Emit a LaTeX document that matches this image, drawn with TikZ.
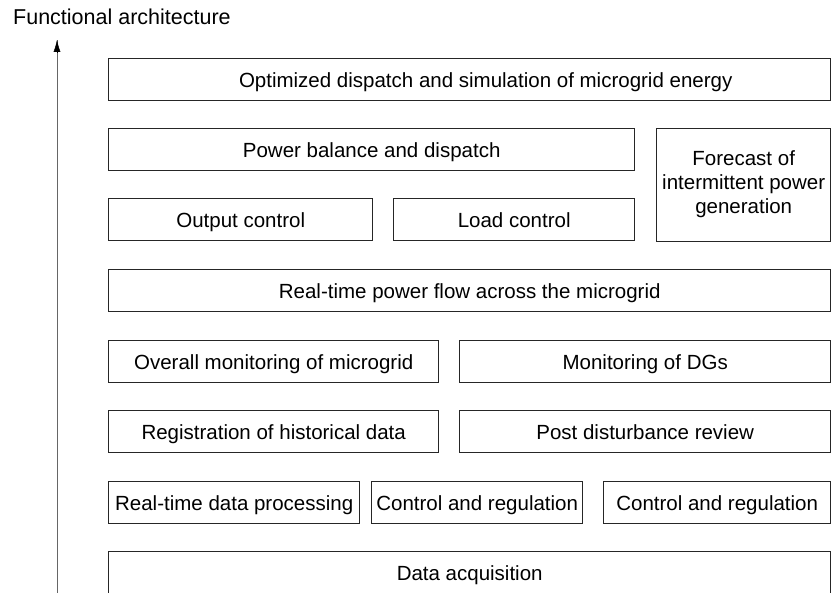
\documentclass[tikz,border=0pt]{standalone}
\usepackage{fontspec}
\setmainfont{Liberation Sans}
\usetikzlibrary{positioning,calc,arrows.meta}

\begin{document}
\begin{tikzpicture}[x=1pt,y=-1pt]
  \useasboundingbox (0,0) rectangle (832,593);
  \tikzset{
    layer/.style={
      draw=black!85,
      line width=1.4pt,
      anchor=north west,
      align=center,
      inner sep=0pt,
      text height=18pt,
      text depth=2pt,
      font=\fontsize{20.5}{24}\selectfont,
      minimum height=42pt,
    },
  }
  % axis
  \coordinate (axisbot) at (57,593);
  \coordinate (axistop) at (57,40);
  \draw[black!60,line width=0.9pt] (axisbot) -- (axistop);
  \draw[black,-{Latex[length=12pt,width=7pt]}] ($(axistop)+(0,12)$) -- (axistop);
  \node[anchor=base west,inner sep=0pt,font=\fontsize{21.5}{24}\selectfont] (title)
    at (13,25) {Functional architecture};
  % upper layers
  \node[layer,minimum width=722pt] (optim)    at (108,58)  {\hspace*{32pt}Optimized dispatch and simulation of microgrid energy};
  \node[layer,minimum width=526pt] (balance)  at (108,128) {Power balance and dispatch};
  \node[layer,minimum width=174pt,minimum height=113pt,text height=,text depth=] (forecast) at (656,128)
    {\raisebox{6pt}{\begin{tabular}{@{}c@{}}Forecast of\\intermittent power\\generation\end{tabular}}};
  \node[layer,minimum width=264pt] (output)   at (108,198) {Output control};
  \node[layer,minimum width=241pt] (load)     at (393,198) {Load control};
  \node[layer,minimum width=722pt] (flow)     at (108,269) {Real-time power flow across the microgrid};
  % monitoring layers
  \node[layer,minimum width=330pt] (overall)  at (108,340) {Overall monitoring of microgrid};
  \node[layer,minimum width=371pt] (dgs)      at (459,340) {Monitoring of DGs};
  \node[layer,minimum width=330pt] (history)  at (108,410) {Registration of historical data};
  \node[layer,minimum width=371pt] (review)   at (459,410) {Post disturbance review};
  % lower layers
  \node[layer,minimum width=251pt] (process)  at (108,481) {Real-time data processing};
  \node[layer,minimum width=211pt] (control1) at (371,481) {Control and regulation};
  \node[layer,minimum width=227pt] (control2) at (603,481) {Control and regulation};
  \node[layer,minimum width=722pt] (acquire)  at (108,551) {Data acquisition};
\end{tikzpicture}
\end{document}
